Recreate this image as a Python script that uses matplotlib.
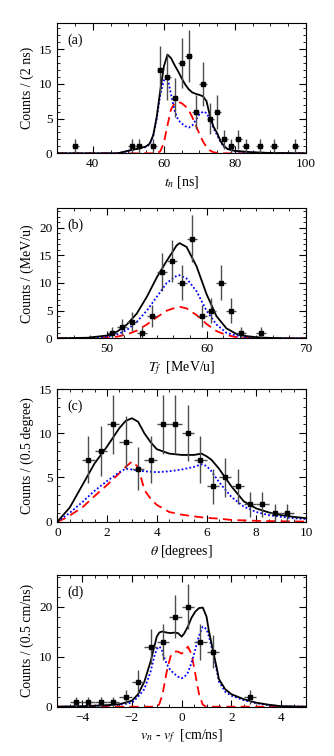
import matplotlib
matplotlib.use("Agg")
import matplotlib.pyplot as plt
from matplotlib.ticker import MultipleLocator, AutoMinorLocator
import numpy as np

plt.rcParams["font.family"] = ["Liberation Serif", "DejaVu Serif"]
plt.rcParams["mathtext.fontset"] = "stix"

# ---- panel (a): neutron time of flight ----
a_x = [35, 51, 53, 57, 59, 61, 63, 65, 67, 69, 71, 73, 75, 77, 79, 81, 83, 87, 91, 97]
a_n = [1, 1, 1, 1, 12, 11, 8, 13, 14, 6, 10, 5, 6, 2, 1, 2, 1, 1, 1, 1]
a_cx = [30, 47, 49, 51, 53, 55, 56, 57, 58, 59, 60, 61, 62, 63, 64, 65, 66, 67, 68, 69, 70,
        71, 72, 73, 74, 75, 76, 77, 78, 80, 85, 90, 100]
a_tot = [0, 0, 0.25, 0.5, 0.7, 1.0, 1.4, 2.6, 5.3, 9.1, 12.5, 14.2, 13.7, 12.7, 11.8, 10.8, 9.9,
         9.2, 8.75, 8.55, 8.4, 8.2, 7.5, 5.3, 3.8, 2.9, 1.7, 1.0, 0.6, 0.35, 0.15, 0.05, 0]
a_blue = [0, 0, 0.2, 0.5, 0.7, 0.9, 1.3, 2.5, 5.0, 8.5, 10.5, 11.0, 8.5, 6.2, 4.8, 4.3, 3.9,
          3.7, 4.0, 4.8, 5.6, 6.0, 5.8, 4.8, 3.6, 2.6, 1.6, 0.9, 0.6, 0.3, 0.12, 0.04, 0]
a_red = [0, 0, 0, 0, 0, 0, 0, 0, 0, 0.3, 1.5, 4.0, 6.3, 7.2, 7.4, 7.2, 6.8,
         6.2, 5.2, 4.0, 2.8, 1.7, 0.9, 0.4, 0.15, 0.05, 0, 0, 0, 0, 0, 0, 0]

# ---- panel (b): fragment energy ----
b_x = [50.5, 51.5, 52.5, 53.5, 54.5, 55.5, 56.5, 57.5, 58.5, 59.5, 60.5, 61.5, 62.5, 63.5, 65.5]
b_n = [1, 2, 3, 1, 4, 12, 14, 10, 18, 4, 5, 10, 5, 1, 1]
b_cx = [45, 48, 50, 51, 52, 53, 54, 55, 56, 57, 57.3, 58, 59, 60, 61, 62, 63, 64, 65, 66, 68, 70]
b_tot = [0, 0.1, 0.5, 1.2, 2.5, 4.5, 7.5, 11, 14, 16.8, 17.2, 16.5, 13, 8, 4, 1.8, 0.8, 0.4,
         0.2, 0.1, 0, 0]
b_blue = [0, 0.05, 0.3, 0.7, 1.5, 3.0, 5.0, 7.5, 10, 11.3, 11.4, 10.8, 8.5, 5.0, 2.5, 1.0, 0.5,
          0.2, 0.1, 0.05, 0, 0]
b_red = [0, 0, 0.1, 0.3, 0.7, 1.4, 2.5, 3.8, 5.0, 5.6, 5.7, 5.4, 4.2, 2.6, 1.3, 0.6, 0.2, 0.1,
         0.05, 0, 0, 0]

# ---- panel (c): angle ----
c_x = [1.25, 1.75, 2.25, 2.75, 3.25, 3.75, 4.25, 4.75, 5.25, 5.75, 6.25, 6.75, 7.25, 7.75,
       8.25, 8.75, 9.25]
c_n = [7, 8, 11, 9, 6, 7, 11, 11, 10, 7, 4, 5, 4, 2, 2, 1, 1]
c_cx = [0, 0.25, 0.5, 1, 1.5, 2, 2.5, 2.75, 3, 3.25, 3.5, 3.75, 4, 4.5, 5, 5.5, 5.8, 6, 6.2,
        6.5, 7, 7.5, 8, 8.5, 9, 9.5, 10]
c_tot = [0, 0.8, 1.6, 4.1, 6.6, 8.5, 10.6, 11.4, 11.7, 11.3, 10.0, 9.0, 8.2, 7.7, 7.55, 7.55,
         7.7, 7.4, 7.0, 6.0, 4.0, 2.3, 1.5, 1.05, 0.75, 0.55, 0.4]
c_blue = [0, 0.5, 1.0, 2.2, 3.5, 4.6, 5.6, 6.0, 5.9, 5.8, 5.7, 5.65, 5.6, 5.7, 5.9, 6.2, 6.5,
          6.3, 5.7, 4.5, 2.8, 1.7, 1.1, 0.75, 0.55, 0.4, 0.3]
c_red = [0, 0.3, 0.7, 1.6, 2.9, 4.15, 5.5, 6.2, 6.8, 6.2, 3.6, 2.6, 1.9, 1.1, 0.8, 0.6, 0.5,
         0.45, 0.4, 0.35, 0.2, 0.15, 0.1, 0.07, 0.05, 0.03, 0.02]

# ---- panel (d): relative velocity ----
d_x = [-4.25, -3.75, -3.25, -2.75, -2.25, -1.75, -1.25, -0.75, -0.25, 0.25, 0.75, 1.25, 2.75]
d_n = [1, 1, 1, 1, 2, 5, 12, 13, 18, 20, 13, 11, 2]
d_cx = [-5, -4.5, -4, -3, -2.5, -2, -1.75, -1.5, -1.25, -1.1, -1.0, -0.9, -0.8, -0.75, -0.6,
        -0.45, -0.3, -0.15, 0, 0.1, 0.25, 0.4, 0.55, 0.7, 0.85, 1.0, 1.1, 1.25, 1.4, 1.5,
        1.75, 2, 2.5, 3, 3.5, 4, 5]
d_tot = [0, 0.05, 0.1, 0.3, 0.5, 1.2, 2.5, 5.0, 9.0, 12.0, 14.0, 14.8, 15.0, 15.0, 14.8,
         14.7, 14.8, 14.7, 14.0, 14.6, 16.0, 17.8, 19.0, 19.7, 19.8, 18.0, 15.0, 11.5, 8.0, 5.5,
         3.5, 2.5, 1.5, 0.8, 0.4, 0.1, 0]
d_blue = [0, 0.03, 0.08, 0.25, 0.4, 0.8, 2.0, 3.5, 7.0, 10.0, 11.5, 12.0, 11.5, 10.5, 8.5,
          7.3, 6.6, 6.0, 5.7, 5.9, 6.8, 8.8, 11.5, 14.2, 16.0, 15.5, 14.0, 11.0, 7.5, 5.0,
          3.0, 2.2, 1.3, 0.7, 0.3, 0.1, 0]
d_red = [0, 0, 0, 0, 0, 0, 0, 0, 0, 0, 0, 0.5, 2.0, 3.0, 7.0, 10.0, 11.0, 11.0, 10.6, 11.0,
         12.0, 10.5, 6.5, 2.5, 0.4, 0, 0, 0, 0, 0, 0, 0, 0, 0, 0, 0, 0]

panels = [
    ("(a)", a_x, a_n, 1.0, a_cx, a_tot, a_blue, a_red, (30, 100), 18.7, 20, 5, 5, 1,
     "$t_n$ [ns]", "Counts / (2 ns)"),
    ("(b)", b_x, b_n, 0.5, b_cx, b_tot, b_blue, b_red, (45, 70), 23.5, 10, 10 / 6, 5, 1,
     "$T_f$  [MeV/u]", "Counts / (MeV/u)"),
    ("(c)", c_x, c_n, 0.25, c_cx, c_tot, c_blue, c_red, (0, 10), 15, 2, 0.5, 5, 1,
     r"$\theta$ [degrees]", "Counts / (0.5 degree)"),
    ("(d)", d_x, d_n, 0.25, d_cx, d_tot, d_blue, d_red, (-5, 5), 26.3, 2, 0.5, 10, 2,
     "$v_n$ - $v_f$  [cm/ns]", "Counts / (0.5 cm/ns)"),
]

# axes boxes in figure fractions (left, bottom, width, height)
boxes = [(0.1716, 0.7972, 0.7445, 0.172),
         (0.1716, 0.5525, 0.7445, 0.172),
         (0.1716, 0.3099, 0.7445, 0.1755),
         (0.1716, 0.0652, 0.7445, 0.1742)]

fig = plt.figure(figsize=(3.34, 7.56), dpi=100)

for box, p in zip(boxes, panels):
    (tag, px, pn, hw, cx, tot, blue, red, xlim, ytop,
     xmaj, xmin, ymaj, ymin, xlab, ylab) = p
    ax = fig.add_axes(box)
    ax.plot(cx, red, color="red", ls=(0, (5, 3)), lw=1.3)
    ax.plot(cx, blue, color="blue", ls=(0, (1, 1.2)), lw=1.3)
    ax.plot(cx, tot, color="black", lw=1.3)
    pn = np.array(pn, dtype=float)
    ax.errorbar(px, pn, yerr=np.sqrt(pn), xerr=hw, fmt="s", color="black",
                ecolor="0.3", elinewidth=1.0, ms=3.5, capsize=0)
    ax.set_xlim(*xlim)
    ax.set_ylim(0, ytop)
    ax.xaxis.set_major_locator(MultipleLocator(xmaj))
    ax.xaxis.set_minor_locator(MultipleLocator(xmin))
    ax.yaxis.set_major_locator(MultipleLocator(ymaj))
    ax.yaxis.set_minor_locator(MultipleLocator(ymin))
    ax.tick_params(which="both", direction="in", top=True, right=True, labelsize=9.5)
    ax.tick_params(which="major", length=5)
    ax.tick_params(which="minor", length=2.5)
    ax.set_xlabel(xlab, fontsize=10, labelpad=3)
    ax.set_ylabel(ylab, fontsize=10, labelpad=4)
    ax.text(0.04, 0.87, tag, transform=ax.transAxes, fontsize=10, va="center")

fig.savefig("out.png", dpi=100)
